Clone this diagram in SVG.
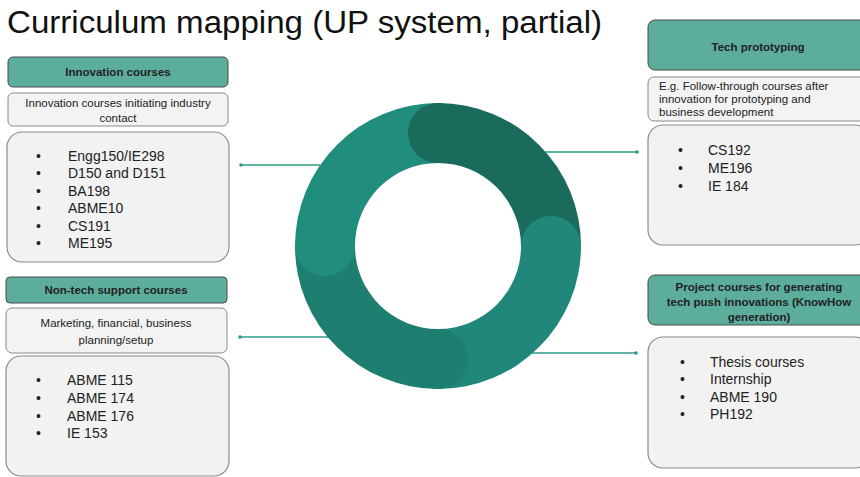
<svg xmlns="http://www.w3.org/2000/svg" width="860" height="477" viewBox="0 0 860 477">
<style>
text{font-family:"Liberation Sans",Arial,sans-serif;fill:#222}
.title{font-size:31px;fill:#111}
.hdr{fill:#5dad9c;stroke:#4a4a4a;stroke-width:1}
.desc{fill:#f3f3f3;stroke:#8a8a8a;stroke-width:1}
.list{fill:#f2f2f2;stroke:#8a8a8a;stroke-width:1.2}
.ht{font-size:11.5px;font-weight:bold;text-anchor:middle}
.dt{font-size:11.5px}
.dc{text-anchor:middle}
.li{font-size:14px}
.conn{stroke:#2f9a84;stroke-width:1.3;fill:none}
.dot{fill:#2f9a84}
</style>
<rect width="860" height="477" fill="#ffffff"/>
<text class="title" x="7" y="33" textLength="595" lengthAdjust="spacingAndGlyphs">Curriculum mapping (UP system, partial)</text>

<g id="connectors">
<line class="conn" x1="241" y1="165" x2="320" y2="165"/><circle class="dot" cx="241" cy="165" r="1.8"/>
<line class="conn" x1="240" y1="337" x2="330" y2="337"/><circle class="dot" cx="240" cy="337" r="1.8"/>
<line class="conn" x1="545" y1="152" x2="637" y2="152"/><circle class="dot" cx="637" cy="152" r="1.8"/>
<line class="conn" x1="530" y1="353" x2="636" y2="353"/><circle class="dot" cx="636" cy="353" r="1.8"/>
</g>

<g id="ring">
<path fill="#1b6b5d" d="M438,103 A143,143 0 0 1 581,246 L521,246 A83,83 0 0 0 438,163 Z"/>
<path fill="#20877a" d="M581,246 A143,143 0 0 1 438,389 L438,329 A83,83 0 0 0 521,246 Z"/>
<path fill="#1e7f70" d="M438,389 A143,143 0 0 1 295,246 L355,246 A83,83 0 0 0 438,329 Z"/>
<path fill="#218d7c" d="M295,246 A143,143 0 0 1 438,103 L438,163 A83,83 0 0 0 355,246 Z"/>
<circle cx="438" cy="133" r="30" fill="#1b6b5d"/>
<circle cx="551" cy="246" r="30" fill="#20877a"/>
<circle cx="438" cy="359" r="30" fill="#1e7f70"/>
<circle cx="325" cy="246" r="30" fill="#218d7c"/>
</g>

<g id="innovation">
<rect class="hdr" x="8" y="57" width="220" height="30" rx="5"/>
<text class="ht" x="118" y="76">Innovation courses</text>
<rect class="desc" x="8" y="93" width="220" height="33" rx="5"/>
<text class="dt dc" x="118" y="107">Innovation courses initiating industry</text>
<text class="dt dc" x="118" y="122">contact</text>
<rect class="list" x="7" y="132" width="222" height="130" rx="15"/>
<text class="li" x="36" y="161">•</text><text class="li" x="68" y="161">Engg150/IE298</text>
<text class="li" x="36" y="178">•</text><text class="li" x="68" y="178">D150 and D151</text>
<text class="li" x="36" y="196">•</text><text class="li" x="68" y="196">BA198</text>
<text class="li" x="36" y="213">•</text><text class="li" x="68" y="213">ABME10</text>
<text class="li" x="36" y="231">•</text><text class="li" x="68" y="231">CS191</text>
<text class="li" x="36" y="248">•</text><text class="li" x="68" y="248">ME195</text>
</g>

<g id="nontech">
<rect class="hdr" x="6" y="277" width="221" height="26" rx="4"/>
<text class="ht" x="116" y="294">Non-tech support courses</text>
<rect class="desc" x="6" y="308" width="221" height="45" rx="6"/>
<text class="dt dc" x="116" y="327">Marketing, financial, business</text>
<text class="dt dc" x="116" y="344">planning/setup</text>
<rect class="list" x="6" y="356" width="223" height="120" rx="15"/>
<text class="li" x="36" y="385">•</text><text class="li" x="67" y="385">ABME 115</text>
<text class="li" x="36" y="403">•</text><text class="li" x="67" y="403">ABME 174</text>
<text class="li" x="36" y="421">•</text><text class="li" x="67" y="421">ABME 176</text>
<text class="li" x="36" y="438">•</text><text class="li" x="67" y="438">IE 153</text>
</g>

<g id="techproto">
<rect class="hdr" x="648" y="20" width="222" height="50" rx="7"/>
<text class="ht" x="758" y="51">Tech prototyping</text>
<rect class="desc" x="648" y="77" width="222" height="44" rx="6"/>
<text class="dt" x="659" y="90">E.g. Follow-through courses after</text>
<text class="dt" x="659" y="103">innovation for prototyping and</text>
<text class="dt" x="659" y="116">business development</text>
<rect class="list" x="648" y="125" width="222" height="120" rx="15"/>
<text class="li" x="678" y="155">•</text><text class="li" x="708" y="155">CS192</text>
<text class="li" x="678" y="173">•</text><text class="li" x="708" y="173">ME196</text>
<text class="li" x="678" y="191">•</text><text class="li" x="708" y="191">IE 184</text>
</g>

<g id="project">
<rect class="hdr" x="648" y="275" width="222" height="50" rx="7"/>
<text class="ht" x="759" y="291">Project courses for generating</text>
<text class="ht" x="759" y="306">tech push innovations (KnowHow</text>
<text class="ht" x="759" y="321">generation)</text>
<rect class="list" x="648" y="337" width="222" height="131" rx="15"/>
<text class="li" x="680" y="367">•</text><text class="li" x="710" y="367">Thesis courses</text>
<text class="li" x="680" y="384">•</text><text class="li" x="710" y="384">Internship</text>
<text class="li" x="680" y="402">•</text><text class="li" x="710" y="402">ABME 190</text>
<text class="li" x="680" y="419">•</text><text class="li" x="710" y="419">PH192</text>
</g>
</svg>
